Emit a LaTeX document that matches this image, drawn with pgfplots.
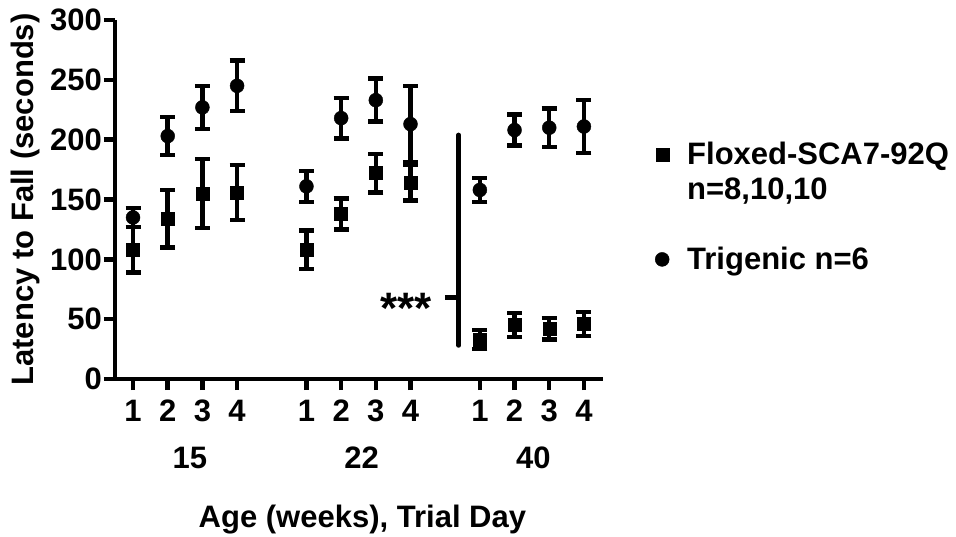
\documentclass[border=0pt]{standalone}
\usepackage{fontspec}
\setmainfont{Liberation Sans}
\usepackage{pgfplots}
\pgfplotsset{compat=1.18}
\usepackage{pgfplotstable}

\pgfplotstableread{
x y e
1 108 19
2 134 24
3 155 29
4 156 23
6 108 16
7 138 13
8 172 16
9 164 15
11 33 8
12 45 10
13 42 9
14 46 10
}\flox
\pgfplotstableread{
x y e
1 135 8
2 203 16
3 227 18
4 245 21
6 161 13
7 218 17
8 233 18
9 213 32
11 158 10
12 208 13
13 210 16
14 211 22
}\trig

\newcommand{\fs}{\fontsize{31}{36}\selectfont\bfseries}

\begin{document}
\begin{tikzpicture}
\begin{axis}[
  at={(0,0)}, anchor=south west,
  scale only axis, width=488pt, height=359pt,
  xmin=0.48, xmax=14.55, ymin=0, ymax=300,
  axis lines=left, axis line style={-, line width=4.5pt, black},
  tick style={line width=4.5pt, black}, major tick length=11pt, tick align=outside,
  xtick={1,2,3,4,6,7,8,9,11,12,13,14},
  xticklabels={1,2,3,4,1,2,3,4,1,2,3,4},
  ytick={0,50,...,300}, minor tick num=0,
  /pgf/number format/assume math mode=true,
  yticklabel style={font=\fs, inner sep=2pt},
  xticklabel style={font=\fs, inner sep=2pt, yshift=-8pt},
  ylabel={Latency to Fall (seconds)},
  ylabel style={font=\fs, at={(axis description cs:-0.168,0.5)}, anchor=base},
  xlabel={Age (weeks), Trial Day},
  xlabel style={font=\fs, at={(axis description cs:0.507,0)}, anchor=base, yshift=-148pt},
  clip=false,
  legend style={at={(axis description cs:1.1004,0.6805)}, anchor=north west,
    draw=none, fill=none, font=\fs, column sep=16pt, row sep=0pt,
    nodes={inner sep=2pt, text height=26pt, text depth=5pt}, cells={anchor=west}},
  legend image code/.code={\draw[#1] plot coordinates {(0pt,0pt)};},
]
\addplot[only marks, mark=square*, mark size=6.5pt, mark options={solid, line width=0.4pt, fill=black},
  line width=4.5pt, black,
  error bars/.cd, y dir=both, y explicit, error mark=-,
  error bar style={line width=4.5pt, black},
  error mark options={rotate=90, line width=4.5pt, mark size=7.5pt, black}]
  table[x=x, y=y, y error=e] {\flox};
\addlegendentry{Floxed-SCA7-92Q}
\addlegendimage{empty legend}
\addlegendentry{n=8,10,10}
\addlegendimage{empty legend}
\addlegendentry{}
\addplot[only marks, mark=*, mark size=7pt, mark options={solid, line width=0.4pt, fill=black},
  line width=4.5pt, black,
  error bars/.cd, y dir=both, y explicit, error mark=-,
  error bar style={line width=4.5pt, black},
  error mark options={rotate=90, line width=4.5pt, mark size=7.5pt, black}]
  table[x=x, y=y, y error=e] {\trig};
\addlegendentry{Trigenic n=6}

\addplot[forget plot, line width=4.5pt, black, line cap=round] coordinates {(10.39,28) (10.39,204)};
\addplot[forget plot, line width=4.5pt, black] coordinates {(9.99,68) (10.39,68)};
\node[font=\fontsize{44}{46}\selectfont\bfseries, anchor=base] at (axis cs:8.87,46) {***};

\node[font=\fs, anchor=base] at ([yshift=-89pt]axis cs:2.64,0) {15};
\node[font=\fs, anchor=base] at ([yshift=-89pt]axis cs:7.59,0) {22};
\node[font=\fs, anchor=base] at ([yshift=-89pt]axis cs:12.54,0) {40};
\end{axis}
\pgfresetboundingbox
\path (-115pt,-157pt) rectangle (841pt,379pt);
\end{tikzpicture}
\end{document}
